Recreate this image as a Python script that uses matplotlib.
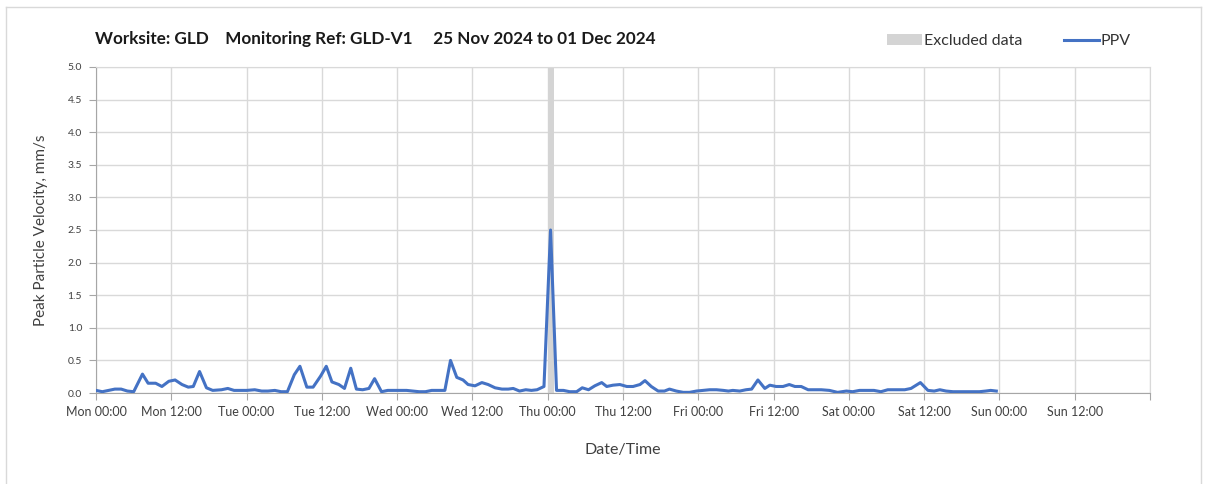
import matplotlib
matplotlib.use("Agg")
import matplotlib.pyplot as plt
import matplotlib.dates as mdates
from matplotlib.patches import Patch
from matplotlib.lines import Line2D
import numpy as np
import pandas as pd

plt.rcParams['font.family'] = ['Lato', 'DejaVu Sans']

# hours since Mon 25 Nov 2024 00:00
hours = [0, 1, 2, 3, 4, 5, 6, 7.4, 8.3, 9.5, 10.5, 11.6, 12.6, 13.7, 14.7, 15.5, 16.5,
         17.6, 18.6, 20, 21, 22, 24, 25.3, 26.4, 27.4, 28.5, 29.5, 30.5, 31.6, 32.5,
         33.6, 34.6, 35.8, 36.7, 37.6, 38.7, 39.6, 40.6, 41.5, 42.5, 43.5, 44.4, 45.5,
         46.5, 47.5, 48.5, 49.5, 50.5, 51.5, 52.5, 53.5, 54.5, 55.6, 56.5, 57.5, 58.5,
         59.3, 60.4, 61.5, 62.5, 63.6, 64.7, 65.7, 66.5, 67.5, 68.5, 69.4, 70.3, 71.4,
         72.45, 73.4, 74.5, 75.5, 76.6, 77.5, 78.5, 79.5, 80.6, 81.4, 82.4, 83.5, 84.6,
         85.6, 86.7, 87.5, 88.5, 89.6, 90.6, 91.4, 92.5, 93.6, 94.6, 95.7, 96.8, 97.8,
         98.9, 100, 100.8, 101.5, 102.6, 103.6, 104.5, 105.5, 106.6, 107.4, 108.4, 109.5,
         110.5, 111.4, 112.4, 113.5, 114.5, 115.6, 116.9, 118.2, 119.6, 120.6, 121.7, 123,
         124, 125.1, 126.2, 127.5, 128.9, 129.9, 131.4, 132.6, 133.6, 134.5, 135.5, 136.6,
         137.6, 138.7, 139.7, 140.8, 141.8, 142.6, 143.5]
ppv = [0.04, 0.02, 0.04, 0.06, 0.06, 0.03, 0.02, 0.29, 0.15, 0.15, 0.10, 0.18, 0.20, 0.13,
       0.09, 0.10, 0.33, 0.08, 0.04, 0.05, 0.07, 0.04, 0.04, 0.05, 0.03, 0.03, 0.04, 0.02,
       0.02, 0.28, 0.41, 0.09, 0.09, 0.26, 0.41, 0.17, 0.13, 0.07, 0.38, 0.06, 0.05, 0.07,
       0.22, 0.02, 0.04, 0.04, 0.04, 0.04, 0.03, 0.02, 0.02, 0.04, 0.04, 0.04, 0.50, 0.24,
       0.20, 0.13, 0.11, 0.16, 0.13, 0.08, 0.06, 0.06, 0.07, 0.03, 0.05, 0.04, 0.05, 0.10,
       2.50, 0.04, 0.04, 0.02, 0.02, 0.08, 0.05, 0.11, 0.16, 0.10, 0.12, 0.13, 0.10, 0.10,
       0.13, 0.19, 0.10, 0.03, 0.03, 0.06, 0.03, 0.01, 0.01, 0.03, 0.04, 0.05, 0.05, 0.04,
       0.03, 0.04, 0.03, 0.05, 0.06, 0.20, 0.07, 0.12, 0.10, 0.10, 0.13, 0.10, 0.10, 0.05,
       0.05, 0.05, 0.04, 0.01, 0.03, 0.02, 0.04, 0.04, 0.04, 0.02, 0.05, 0.05, 0.05, 0.07,
       0.16, 0.04, 0.03, 0.05, 0.03, 0.02, 0.02, 0.02, 0.02, 0.02, 0.03, 0.04, 0.03]

# excluded window (hours)
excl_start, excl_end = 72, 73

start = pd.Timestamp("2024-11-25 00:00")
times = start + pd.to_timedelta(hours, unit="h")

fig = plt.figure(figsize=(12.08, 4.84), dpi=100)
ax = fig.add_axes([0.0795, 0.188, 0.8725, 0.6736])

blue = "#4472C4"
grid_c = "#D9D9D9"

ax.axvspan(start + pd.Timedelta(hours=excl_start), start + pd.Timedelta(hours=excl_end),
           color="#D4D4D4", lw=0, zorder=1)
ax.plot(times, ppv, color=blue, lw=2.2, zorder=3)

ax.set_xlim(start, start + pd.Timedelta(days=7))
ax.set_ylim(0, 5)
ax.set_yticks(np.arange(0, 5.01, 0.5))
ax.yaxis.set_major_formatter(matplotlib.ticker.FormatStrFormatter('%.1f'))
# ticks every 12 h, no label on the closing edge
ticks = [start + pd.Timedelta(hours=12 * i) for i in range(15)]
ax.set_xticks(ticks)
ax.set_xticklabels([t.strftime('%a %H:%M') for t in ticks[:-1]] + [''])

ax.grid(True, color=grid_c, lw=1, zorder=0)
ax.set_axisbelow(True)
for s in ['top', 'right']:
    ax.spines[s].set_color(grid_c)
for s in ['left', 'bottom']:
    ax.spines[s].set_color("#A6A6A6")

ax.tick_params(axis='x', labelsize=9, colors="#A6A6A6", labelcolor="#404040", length=5, pad=4)
ax.tick_params(axis='y', labelsize=7.5, colors="#A6A6A6", labelcolor="#404040", length=5, pad=5)

ax.set_ylabel("Peak Particle Velocity, mm/s", fontsize=11, color="#404040", labelpad=14)
ax.set_xlabel("Date/Time", fontsize=11.5, color="#404040", labelpad=18)

fig.text(0.079, 0.92, "Worksite: GLD    Monitoring Ref: GLD-V1     25 Nov 2024 to 01 Dec 2024",
         fontsize=12.3, fontweight='bold', color="#1a1a1a", va='center')

handles = [Patch(facecolor="#D4D4D4", edgecolor='none', label="Excluded data"),
           Line2D([0], [0], color=blue, lw=2.2, label="PPV")]
fig.legend(handles=handles, loc='center', bbox_to_anchor=(0.835, 0.915), ncol=2,
           frameon=False, fontsize=11.5, handlelength=2.2, handletextpad=0.1,
           columnspacing=2.6, labelcolor="#333333")

# thin chart border
fig.add_artist(plt.Line2D([0.005, 0.005], [0.0, 0.986], color=grid_c, lw=1,
                          transform=fig.transFigure))
fig.add_artist(plt.Line2D([0.005, 0.994], [0.986, 0.986], color=grid_c, lw=1,
                          transform=fig.transFigure))
fig.add_artist(plt.Line2D([0.994, 0.994], [0.0, 0.986], color=grid_c, lw=1,
                          transform=fig.transFigure))

fig.savefig("out.png", dpi=100, facecolor="white")
